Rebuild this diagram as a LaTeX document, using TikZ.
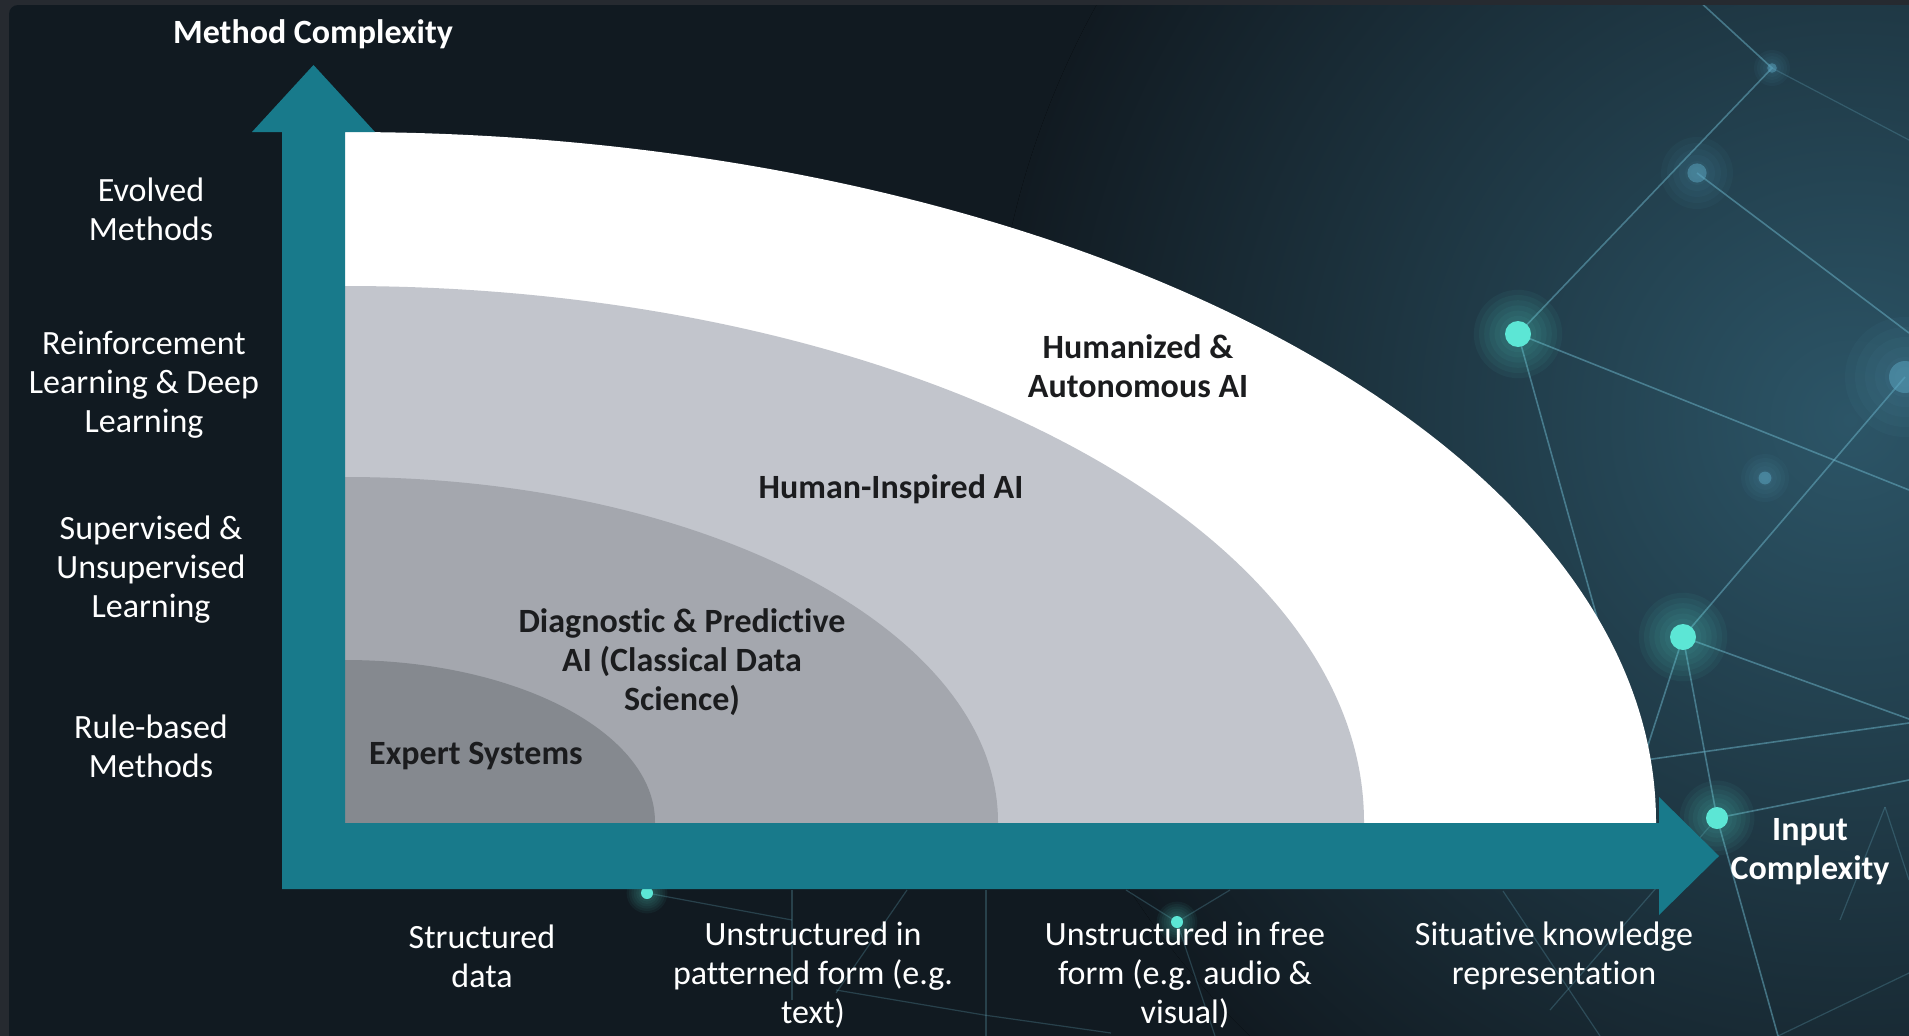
\documentclass[tikz,border=0pt]{standalone}
\usepackage{fontspec}
\setmainfont{Carlito}[Ligatures=NoCommon]
\usetikzlibrary{positioning}

\definecolor{framebg}{HTML}{262A30}
\definecolor{panelbg}{HTML}{111A21}
\definecolor{glowbg}{HTML}{2C5567}
\definecolor{axisteal}{HTML}{187A8B}
\definecolor{bandB}{HTML}{C2C5CC}
\definecolor{bandC}{HTML}{A4A7AE}
\definecolor{bandD}{HTML}{85898F}
\definecolor{netline}{HTML}{6DB6CB}
\definecolor{netdot}{HTML}{5CE6D5}
\definecolor{netpale}{HTML}{5BA6C2}
\definecolor{inkdark}{HTML}{1B1C1E}

\begin{document}
\begin{tikzpicture}[x=1pt,y=-1pt,
  sidelbl/.style={white, align=center, inner sep=0pt, font=\fontsize{34}{39}\selectfont},
  axislbl/.style={white, align=center, inner sep=0pt, font=\fontsize{34}{39}\selectfont\bfseries},
  zonelbl/.style={inkdark, align=center, inner sep=0pt, font=\fontsize{34}{39}\selectfont\bfseries},
  netlink/.style={netline, line width=1.6pt, opacity=0.5},
  faintlink/.style={netline, line width=1.2pt, opacity=0.25}]

  \useasboundingbox (0,0) rectangle (1909,1036);

%%%%%%%%%%%%%%%%%%%%%%%%%%%%%%%%%%%%%%%%%%
  % Background
  \fill[framebg] (0,0) rectangle (1909,1036);
  \begin{scope}
    \clip[rounded corners=9pt] (9,5) rectangle (1940,1060);
    \fill[panelbg] (0,0) rectangle (1909,1036);
    \fill[inner color=glowbg, outer color=panelbg] (1850,420) circle (860);

    % Network points
    \coordinate (n1) at (1698,0);
    \coordinate (n2) at (1772,68);
    \coordinate (n3) at (1697,173);
    \coordinate (n4) at (1518,334);
    \coordinate (n5) at (1905,377);
    \coordinate (n6) at (1765,478);
    \coordinate (n7) at (1683,637);
    \coordinate (n8) at (1717,818);
    \coordinate (n9) at (1885,807);
    \coordinate (j1) at (647,893);
    \coordinate (k1) at (1177,922);

    % Network links
    \draw[netlink] (n1) -- (n2) -- (n4) -- (1909,490);
    \draw[netlink] (n3) -- (1909,333);
    \draw[netlink] (n4) -- (1620,700);
    \draw[netlink] (n7) -- (n5);
    \draw[netlink] (n7) -- (1909,719);
    \draw[netlink] (n7) -- (n8) -- (1778,1036);
    \draw[netlink] (n7) -- (1640,770);
    \draw[netlink] (1645,760) -- (1909,723);
    \draw[netlink] (n8) -- (1909,780);
    \draw[faintlink] (n9) -- (1840,920);
    \draw[faintlink] (n9) -- (1909,880);
    \draw[faintlink] (1503,891) -- (1600,1036);
    \draw[faintlink] (1909,973) -- (1778,1036);
    \draw[faintlink] (n8) -- (1550,1010);
    \draw[faintlink] (n2) -- (1909,140);
    \draw[faintlink] (j1) -- (792,920);
    \draw[faintlink] (792,890) -- (792,1000);
    \draw[faintlink] (836,990) -- (984,1015) -- (1111,1033);
    \draw[faintlink] (907,890) -- (836,993);
    \draw[faintlink] (986,890) -- (986,1036);
    \draw[faintlink] (k1) -- (1126,890);
    \draw[faintlink] (k1) -- (1230,890);
    \draw[faintlink] (k1) -- (1215,1036);

    % Network dots
    \foreach \p/\r in {n4/13, n7/13, n8/11, j1/6, k1/6} {
      \foreach \k in {1,...,6}
        \fill[netdot, opacity=0.05] (\p) circle (\r*1+\r*\k*0.4);
      \fill[netdot] (\p) circle (\r);
    }
    \foreach \p/\r in {n2/6, n3/12, n6/8, n5/20} {
      \foreach \k in {1,...,6}
        \fill[netpale, opacity=0.05] (\p) circle (\r*\k*0.5);
      \fill[netpale, opacity=0.5] (\p) circle (\r*0.8);
    }
  \end{scope}

  % Nested fields
  \begin{scope}
    \clip (345,0) rectangle (1909,822);
    \fill[white] (345,822) ellipse [x radius=1311, y radius=690];
    \fill[bandB] (345,822) ellipse [x radius=1019, y radius=536];
    \fill[bandC] (345,822) ellipse [x radius=653, y radius=345];
    \fill[bandD] (345,822) ellipse [x radius=310, y radius=162];
  \end{scope}

  % Axes
  \fill[axisteal] (282,889) -- (282,132) -- (252,132) -- (313.5,65) -- (375,132)
    -- (345,132) -- (345,823) -- (1659,823) -- (1659,797) -- (1719,856)
    -- (1659,915) -- (1659,889) -- cycle;

  \node[axislbl] (mc) at (313,34) {Method Complexity};
  \node[axislbl] (ic) at (1810,852) {Input\\Complexity};

  % Method levels
  \node[sidelbl] (ev) at (151,209) {Evolved\\Methods};
  \node[sidelbl] (rl) at (144,385) {Reinforcement\\Learning \& Deep\\Learning};
  \node[sidelbl] (su) at (151,570) {Supervised \&\\Unsupervised\\Learning};
  \node[sidelbl] (rb) at (151,746) {Rule-based\\Methods};

  % Input levels
  \node[sidelbl] (sd) at (482,956) {Structured\\data};
  \node[sidelbl] (up) at (813,975) {Unstructured in\\patterned form (e.g.\\text)};
  \node[sidelbl] (uf) at (1185,975) {Unstructured in free\\form (e.g. audio \&\\visual)};
  \node[sidelbl] (sk) at (1554,956) {Situative knowledge\\representation};

  % Field labels
  \node[zonelbl] (ha) at (1138,366) {Humanized \&\\Autonomous AI};
  \node[zonelbl] (hi) at (891,489) {Human-Inspired AI};
  \node[zonelbl] (dp) at (682,662) {Diagnostic \& Predictive\\AI (Classical Data\\Science)};
  \node[zonelbl, anchor=west] (es) at (369,756) {Expert Systems};

\end{tikzpicture}
\end{document}
